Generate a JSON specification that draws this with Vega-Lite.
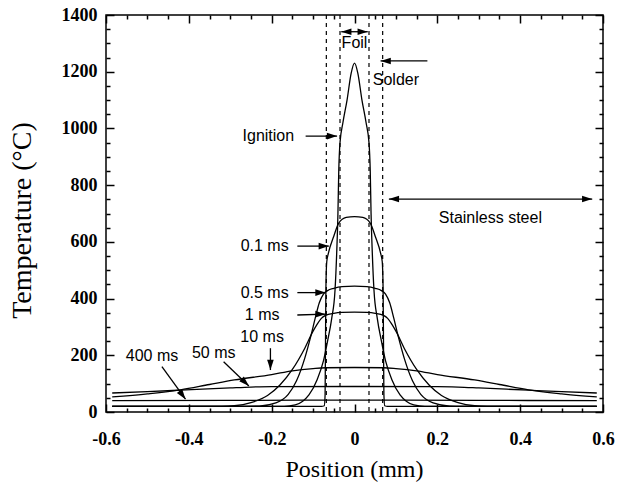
{
  "$schema": "https://vega.github.io/schema/vega-lite/v6.json",
  "width": 497,
  "height": 397,
  "autosize": "none",
  "padding": {"left": 106, "top": 15, "right": 15, "bottom": 70},
  "background": "white",
  "config": {
    "view": {"stroke": "black", "strokeWidth": 1.5},
    "axis": {"domain": false, "grid": false, "ticks": true, "tickColor": "black", "tickWidth": 1.5, "labelColor": "black", "titleColor": "black", "labelFlush": false, "labelOverlap": false}
  },
  "datasets": {
    "curves": [
      {"s": "Ignition", "x": -0.585, "T": 20}, {"s": "Ignition", "x": -0.17, "T": 20}, {"s": "Ignition", "x": -0.143, "T": 25}, {"s": "Ignition", "x": -0.125, "T": 38}, {"s": "Ignition", "x": -0.11, "T": 60}, {"s": "Ignition", "x": -0.09, "T": 115}, {"s": "Ignition", "x": -0.075, "T": 180}, {"s": "Ignition", "x": -0.065, "T": 250}, {"s": "Ignition", "x": -0.055, "T": 330}, {"s": "Ignition", "x": -0.047, "T": 430}, {"s": "Ignition", "x": -0.043, "T": 560}, {"s": "Ignition", "x": -0.04, "T": 700}, {"s": "Ignition", "x": -0.038, "T": 850}, {"s": "Ignition", "x": -0.035, "T": 950}, {"s": "Ignition", "x": -0.028, "T": 1020}, {"s": "Ignition", "x": -0.018, "T": 1100}, {"s": "Ignition", "x": -0.008, "T": 1195}, {"s": "Ignition", "x": 0, "T": 1230},
      {"s": "Ignition", "x": 0.008, "T": 1195}, {"s": "Ignition", "x": 0.018, "T": 1100}, {"s": "Ignition", "x": 0.028, "T": 1020}, {"s": "Ignition", "x": 0.035, "T": 950}, {"s": "Ignition", "x": 0.038, "T": 850}, {"s": "Ignition", "x": 0.04, "T": 700}, {"s": "Ignition", "x": 0.043, "T": 560}, {"s": "Ignition", "x": 0.047, "T": 430}, {"s": "Ignition", "x": 0.055, "T": 330}, {"s": "Ignition", "x": 0.065, "T": 250}, {"s": "Ignition", "x": 0.075, "T": 180}, {"s": "Ignition", "x": 0.09, "T": 115}, {"s": "Ignition", "x": 0.11, "T": 60}, {"s": "Ignition", "x": 0.125, "T": 38}, {"s": "Ignition", "x": 0.143, "T": 25}, {"s": "Ignition", "x": 0.17, "T": 20}, {"s": "Ignition", "x": 0.585, "T": 20},

      {"s": "0.1 ms", "x": -0.585, "T": 20}, {"s": "0.1 ms", "x": -0.08, "T": 20}, {"s": "0.1 ms", "x": -0.073, "T": 22}, {"s": "0.1 ms", "x": -0.071, "T": 60}, {"s": "0.1 ms", "x": -0.07, "T": 250}, {"s": "0.1 ms", "x": -0.069, "T": 440}, {"s": "0.1 ms", "x": -0.067, "T": 530}, {"s": "0.1 ms", "x": -0.063, "T": 560}, {"s": "0.1 ms", "x": -0.05, "T": 620}, {"s": "0.1 ms", "x": -0.038, "T": 666}, {"s": "0.1 ms", "x": -0.02, "T": 686}, {"s": "0.1 ms", "x": 0, "T": 689},
      {"s": "0.1 ms", "x": 0.02, "T": 686}, {"s": "0.1 ms", "x": 0.038, "T": 666}, {"s": "0.1 ms", "x": 0.05, "T": 620}, {"s": "0.1 ms", "x": 0.063, "T": 560}, {"s": "0.1 ms", "x": 0.067, "T": 530}, {"s": "0.1 ms", "x": 0.069, "T": 440}, {"s": "0.1 ms", "x": 0.07, "T": 250}, {"s": "0.1 ms", "x": 0.071, "T": 60}, {"s": "0.1 ms", "x": 0.073, "T": 22}, {"s": "0.1 ms", "x": 0.08, "T": 20}, {"s": "0.1 ms", "x": 0.585, "T": 20},

      {"s": "0.5 ms", "x": -0.585, "T": 20}, {"s": "0.5 ms", "x": -0.26, "T": 20}, {"s": "0.5 ms", "x": -0.23, "T": 21}, {"s": "0.5 ms", "x": -0.19, "T": 32}, {"s": "0.5 ms", "x": -0.16, "T": 62}, {"s": "0.5 ms", "x": -0.14, "T": 110}, {"s": "0.5 ms", "x": -0.12, "T": 190}, {"s": "0.5 ms", "x": -0.105, "T": 270}, {"s": "0.5 ms", "x": -0.095, "T": 330}, {"s": "0.5 ms", "x": -0.085, "T": 385}, {"s": "0.5 ms", "x": -0.075, "T": 416}, {"s": "0.5 ms", "x": -0.065, "T": 428}, {"s": "0.5 ms", "x": -0.05, "T": 436}, {"s": "0.5 ms", "x": -0.03, "T": 442}, {"s": "0.5 ms", "x": 0, "T": 444},
      {"s": "0.5 ms", "x": 0.03, "T": 442}, {"s": "0.5 ms", "x": 0.05, "T": 436}, {"s": "0.5 ms", "x": 0.065, "T": 428}, {"s": "0.5 ms", "x": 0.075, "T": 416}, {"s": "0.5 ms", "x": 0.085, "T": 385}, {"s": "0.5 ms", "x": 0.095, "T": 330}, {"s": "0.5 ms", "x": 0.105, "T": 270}, {"s": "0.5 ms", "x": 0.12, "T": 190}, {"s": "0.5 ms", "x": 0.14, "T": 110}, {"s": "0.5 ms", "x": 0.16, "T": 62}, {"s": "0.5 ms", "x": 0.19, "T": 32}, {"s": "0.5 ms", "x": 0.23, "T": 21}, {"s": "0.5 ms", "x": 0.26, "T": 20}, {"s": "0.5 ms", "x": 0.585, "T": 20},

      {"s": "1 ms", "x": -0.585, "T": 20}, {"s": "1 ms", "x": -0.32, "T": 20}, {"s": "1 ms", "x": -0.29, "T": 22}, {"s": "1 ms", "x": -0.25, "T": 33}, {"s": "1 ms", "x": -0.21, "T": 58}, {"s": "1 ms", "x": -0.18, "T": 95}, {"s": "1 ms", "x": -0.15, "T": 150}, {"s": "1 ms", "x": -0.12, "T": 225}, {"s": "1 ms", "x": -0.1, "T": 285}, {"s": "1 ms", "x": -0.09, "T": 310}, {"s": "1 ms", "x": -0.08, "T": 330}, {"s": "1 ms", "x": -0.07, "T": 341}, {"s": "1 ms", "x": -0.05, "T": 348}, {"s": "1 ms", "x": -0.03, "T": 351}, {"s": "1 ms", "x": 0, "T": 352},
      {"s": "1 ms", "x": 0.03, "T": 351}, {"s": "1 ms", "x": 0.05, "T": 348}, {"s": "1 ms", "x": 0.07, "T": 341}, {"s": "1 ms", "x": 0.08, "T": 330}, {"s": "1 ms", "x": 0.09, "T": 310}, {"s": "1 ms", "x": 0.1, "T": 285}, {"s": "1 ms", "x": 0.12, "T": 225}, {"s": "1 ms", "x": 0.15, "T": 150}, {"s": "1 ms", "x": 0.18, "T": 95}, {"s": "1 ms", "x": 0.21, "T": 58}, {"s": "1 ms", "x": 0.25, "T": 33}, {"s": "1 ms", "x": 0.29, "T": 22}, {"s": "1 ms", "x": 0.32, "T": 20}, {"s": "1 ms", "x": 0.585, "T": 20},

      {"s": "10 ms", "x": -0.585, "T": 53}, {"s": "10 ms", "x": -0.5, "T": 64}, {"s": "10 ms", "x": -0.42, "T": 78}, {"s": "10 ms", "x": -0.35, "T": 97}, {"s": "10 ms", "x": -0.29, "T": 113}, {"s": "10 ms", "x": -0.2, "T": 132}, {"s": "10 ms", "x": -0.15, "T": 145}, {"s": "10 ms", "x": -0.1, "T": 153}, {"s": "10 ms", "x": -0.07, "T": 156}, {"s": "10 ms", "x": 0, "T": 157},
      {"s": "10 ms", "x": 0.07, "T": 156}, {"s": "10 ms", "x": 0.1, "T": 153}, {"s": "10 ms", "x": 0.15, "T": 145}, {"s": "10 ms", "x": 0.2, "T": 132}, {"s": "10 ms", "x": 0.29, "T": 113}, {"s": "10 ms", "x": 0.35, "T": 97}, {"s": "10 ms", "x": 0.42, "T": 78}, {"s": "10 ms", "x": 0.5, "T": 64}, {"s": "10 ms", "x": 0.585, "T": 53},

      {"s": "50 ms", "x": -0.585, "T": 67}, {"s": "50 ms", "x": -0.5, "T": 72}, {"s": "50 ms", "x": -0.42, "T": 77}, {"s": "50 ms", "x": -0.3, "T": 85}, {"s": "50 ms", "x": -0.25, "T": 88}, {"s": "50 ms", "x": -0.2, "T": 89.5}, {"s": "50 ms", "x": 0, "T": 90},
      {"s": "50 ms", "x": 0.2, "T": 89.5}, {"s": "50 ms", "x": 0.25, "T": 88}, {"s": "50 ms", "x": 0.3, "T": 85}, {"s": "50 ms", "x": 0.42, "T": 77}, {"s": "50 ms", "x": 0.5, "T": 72}, {"s": "50 ms", "x": 0.585, "T": 67},

      {"s": "400 ms", "x": -0.585, "T": 40}, {"s": "400 ms", "x": -0.3, "T": 41}, {"s": "400 ms", "x": 0, "T": 42}, {"s": "400 ms", "x": 0.3, "T": 41}, {"s": "400 ms", "x": 0.585, "T": 40}
    ],
    "interfaces": [{"x": -0.068}, {"x": -0.035}, {"x": 0.035}, {"x": 0.068}],
    "arrows": [
      {"name": "Ignition", "x1": -0.118, "y1": 973, "x2": -0.042, "y2": 973},
      {"name": "Solder", "x1": 0.176, "y1": 1238, "x2": 0.063, "y2": 1238},
      {"name": "Foil", "x1": -0.032, "y1": 1341, "x2": 0.032, "y2": 1341},
      {"name": "Stainless steel", "x1": 0.083, "y1": 751, "x2": 0.574, "y2": 751},
      {"name": "0.1 ms", "x1": -0.138, "y1": 585, "x2": -0.062, "y2": 585},
      {"name": "0.5 ms", "x1": -0.138, "y1": 421, "x2": -0.07, "y2": 421},
      {"name": "1 ms", "x1": -0.138, "y1": 342, "x2": -0.07, "y2": 345},
      {"name": "10 ms", "x1": -0.203, "y1": 225, "x2": -0.203, "y2": 148},
      {"name": "50 ms", "x1": -0.316, "y1": 177, "x2": -0.255, "y2": 92},
      {"name": "400 ms", "x1": -0.465, "y1": 160, "x2": -0.408, "y2": 45}
    ],
    "labels": [
      {"label": "Foil", "x": 0.0, "T": 1300},
      {"label": "Solder", "x": 0.1, "T": 1170},
      {"label": "Ignition", "x": -0.208, "T": 973},
      {"label": "Stainless steel", "x": 0.328, "T": 684},
      {"label": "0.1 ms", "x": -0.217, "T": 585},
      {"label": "0.5 ms", "x": -0.217, "T": 420},
      {"label": "1 ms", "x": -0.223, "T": 342},
      {"label": "10 ms", "x": -0.223, "T": 263},
      {"label": "50 ms", "x": -0.34, "T": 209},
      {"label": "400 ms", "x": -0.489, "T": 197}
    ]
  },
  "layer": [
    {
      "data": {"name": "curves"},
      "mark": {"type": "line", "color": "black", "strokeWidth": 1.3, "interpolate": "monotone"},
      "encoding": {
        "x": {"field": "x", "type": "quantitative", "scale": {"domain": [-0.6, 0.6], "nice": false, "zero": false},
          "axis": {"orient": "bottom", "offset": -8, "values": [-0.6, -0.4, -0.2, 0, 0.2, 0.4, 0.6], "labelExpr": "'' + datum.value", "tickSize": 8, "labelFont": "Liberation Serif", "labelFontWeight": "bold", "labelFontSize": 18, "labelBaseline": "alphabetic", "labelPadding": 32, "title": "Position (mm)", "titleFont": "Liberation Serif", "titleFontWeight": "normal", "titleFontSize": 24, "titleBaseline": "alphabetic", "titleY": 72, "titleX": 248}},
        "y": {"field": "T", "type": "quantitative", "scale": {"domain": [0, 1400], "nice": false, "zero": false},
          "axis": {"orient": "left", "offset": -8, "values": [0, 200, 400, 600, 800, 1000, 1200, 1400], "format": "d", "tickSize": 8, "labelFont": "Liberation Serif", "labelFontWeight": "bold", "labelFontSize": 18, "labelPadding": 9, "title": "Temperature (°C)", "titleFont": "Liberation Serif", "titleFontWeight": "normal", "titleFontSize": 28, "titleBaseline": "alphabetic", "titleX": -84, "titleY": 205, "titleAngle": -90}},
        "detail": {"field": "s", "type": "nominal"}
      }
    },
    {
      "data": {"name": "interfaces"},
      "mark": {"type": "rule", "color": "black", "strokeWidth": 1.2, "strokeDash": [4, 4]},
      "encoding": {
        "x": {"field": "x", "type": "quantitative", "scale": {"domain": [-0.6, 0.6], "nice": false, "zero": false},
          "axis": {"orient": "top", "offset": -8, "values": [-0.6, -0.4, -0.2, 0, 0.2, 0.4, 0.6], "tickSize": 8, "labels": false, "title": null}}
      }
    },
    {
      "data": {"name": "arrows"},
      "mark": {"type": "rule", "color": "black", "strokeWidth": 1.3},
      "encoding": {
        "x": {"field": "x1", "type": "quantitative", "scale": {"domain": [-0.6, 0.6], "nice": false, "zero": false},
          "axis": {"orient": "bottom", "offset": -4, "values": [-0.55, -0.5, -0.45, -0.35, -0.3, -0.25, -0.15, -0.1, -0.05, 0.05, 0.1, 0.15, 0.25, 0.3, 0.35, 0.45, 0.5, 0.55], "tickSize": 4, "labels": false, "title": null}},
        "y": {"field": "y1", "type": "quantitative", "scale": {"domain": [0, 1400], "nice": false, "zero": false},
          "axis": {"orient": "right", "offset": -8, "values": [0, 200, 400, 600, 800, 1000, 1200, 1400], "tickSize": 8, "labels": false, "title": null}},
        "x2": {"field": "x2"},
        "y2": {"field": "y2"}
      }
    },
    {
      "data": {"name": "arrows"},
      "transform": [{"filter": {"field": "name", "oneOf": ["Ignition", "Foil", "Stainless steel", "0.1 ms", "0.5 ms", "1 ms"]}}],
      "mark": {"type": "point", "shape": "M0,0L1.1,3.4L-1.1,3.4Z", "filled": true, "color": "black", "opacity": 1, "size": 36, "angle": 90, "strokeWidth": 0},
      "encoding": {
        "x": {"field": "x2", "type": "quantitative", "scale": {"domain": [-0.6, 0.6], "nice": false, "zero": false},
          "axis": {"orient": "top", "offset": -4, "values": [-0.55, -0.5, -0.45, -0.35, -0.3, -0.25, -0.15, -0.1, -0.05, 0.05, 0.1, 0.15, 0.25, 0.3, 0.35, 0.45, 0.5, 0.55], "tickSize": 4, "labels": false, "title": null}},
        "y": {"field": "y2", "type": "quantitative", "scale": {"domain": [0, 1400], "nice": false, "zero": false},
          "axis": {"orient": "left", "offset": -4, "values": [50, 100, 150, 250, 300, 350, 450, 500, 550, 650, 700, 750, 850, 900, 950, 1050, 1100, 1150, 1250, 1300, 1350], "tickSize": 4, "labels": false, "title": null}}
      }
    },
    {
      "data": {"name": "arrows"},
      "transform": [{"filter": {"field": "name", "oneOf": ["Solder"]}}],
      "mark": {"type": "point", "shape": "M0,0L1.1,3.4L-1.1,3.4Z", "filled": true, "color": "black", "opacity": 1, "size": 36, "angle": 270, "strokeWidth": 0},
      "encoding": {
        "x": {"field": "x2", "type": "quantitative", "scale": {"domain": [-0.6, 0.6], "nice": false, "zero": false}, "axis": null},
        "y": {"field": "y2", "type": "quantitative", "scale": {"domain": [0, 1400], "nice": false, "zero": false},
          "axis": {"orient": "right", "offset": -4, "values": [50, 100, 150, 250, 300, 350, 450, 500, 550, 650, 700, 750, 850, 900, 950, 1050, 1100, 1150, 1250, 1300, 1350], "tickSize": 4, "labels": false, "title": null}}
      }
    },
    {
      "data": {"name": "arrows"},
      "transform": [{"filter": {"field": "name", "oneOf": ["Foil", "Stainless steel"]}}],
      "mark": {"type": "point", "shape": "M0,0L1.1,3.4L-1.1,3.4Z", "filled": true, "color": "black", "opacity": 1, "size": 36, "angle": 270, "strokeWidth": 0},
      "encoding": {
        "x": {"field": "x1", "type": "quantitative", "scale": {"domain": [-0.6, 0.6], "nice": false, "zero": false}, "axis": null},
        "y": {"field": "y1", "type": "quantitative", "scale": {"domain": [0, 1400], "nice": false, "zero": false}, "axis": null}
      }
    },
    {
      "data": {"name": "arrows"},
      "transform": [{"filter": {"field": "name", "oneOf": ["10 ms"]}}],
      "mark": {"type": "point", "shape": "M0,0L1.1,3.4L-1.1,3.4Z", "filled": true, "color": "black", "opacity": 1, "size": 36, "angle": 180, "strokeWidth": 0},
      "encoding": {
        "x": {"field": "x2", "type": "quantitative", "scale": {"domain": [-0.6, 0.6], "nice": false, "zero": false}, "axis": null},
        "y": {"field": "y2", "type": "quantitative", "scale": {"domain": [0, 1400], "nice": false, "zero": false}, "axis": null}
      }
    },
    {
      "data": {"name": "arrows"},
      "transform": [{"filter": {"field": "name", "oneOf": ["50 ms"]}}],
      "mark": {"type": "point", "shape": "M0,0L1.1,3.4L-1.1,3.4Z", "filled": true, "color": "black", "opacity": 1, "size": 36, "angle": 134, "strokeWidth": 0},
      "encoding": {
        "x": {"field": "x2", "type": "quantitative", "scale": {"domain": [-0.6, 0.6], "nice": false, "zero": false}, "axis": null},
        "y": {"field": "y2", "type": "quantitative", "scale": {"domain": [0, 1400], "nice": false, "zero": false}, "axis": null}
      }
    },
    {
      "data": {"name": "arrows"},
      "transform": [{"filter": {"field": "name", "oneOf": ["400 ms"]}}],
      "mark": {"type": "point", "shape": "M0,0L1.1,3.4L-1.1,3.4Z", "filled": true, "color": "black", "opacity": 1, "size": 36, "angle": 144, "strokeWidth": 0},
      "encoding": {
        "x": {"field": "x2", "type": "quantitative", "scale": {"domain": [-0.6, 0.6], "nice": false, "zero": false}, "axis": null},
        "y": {"field": "y2", "type": "quantitative", "scale": {"domain": [0, 1400], "nice": false, "zero": false}, "axis": null}
      }
    },
    {
      "data": {"name": "labels"},
      "mark": {"type": "text", "font": "Liberation Sans", "fontSize": 16, "color": "black", "align": "center", "baseline": "middle"},
      "encoding": {
        "x": {"field": "x", "type": "quantitative", "scale": {"domain": [-0.6, 0.6], "nice": false, "zero": false}, "axis": null},
        "y": {"field": "T", "type": "quantitative", "scale": {"domain": [0, 1400], "nice": false, "zero": false}, "axis": null},
        "text": {"field": "label", "type": "nominal"}
      }
    }
  ],
  "resolve": {"axis": {"x": "independent", "y": "independent"}}
}
